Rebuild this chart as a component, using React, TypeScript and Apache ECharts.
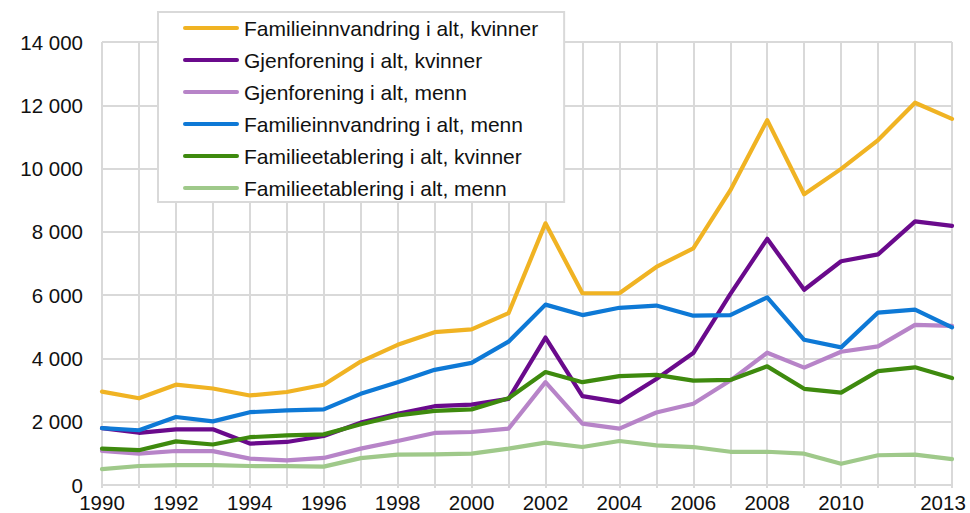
import React, { useEffect, useRef } from "react";
import * as echarts from "echarts";

const years = [
  "1990", "1991", "1992", "1993", "1994", "1995", "1996", "1997", "1998", "1999", "2000", "2001",
  "2002", "2003", "2004", "2005", "2006", "2007", "2008", "2009", "2010", "2011", "2012", "2013",
];

const familieinnvandringKvinner = [2950, 2740, 3170, 3050, 2830, 2940, 3170, 3900, 4430, 4830, 4920, 5430, 8270, 6060, 6060, 6890, 7480, 9310, 11530, 9190, 9990, 10900, 12080, 11570];
const gjenforeningKvinner = [1800, 1650, 1760, 1760, 1310, 1360, 1550, 1970, 2250, 2490, 2540, 2720, 4660, 2810, 2620, 3350, 4170, 6030, 7780, 6170, 7070, 7290, 8330, 8190];
const gjenforeningMenn = [1080, 990, 1075, 1070, 835, 780, 855, 1150, 1390, 1645, 1675, 1780, 3250, 1940, 1780, 2290, 2570, 3300, 4180, 3710, 4210, 4380, 5060, 5030];
const familieinnvandringMenn = [1800, 1730, 2150, 2010, 2300, 2360, 2390, 2880, 3250, 3640, 3860, 4530, 5700, 5370, 5600, 5670, 5350, 5370, 5930, 4590, 4350, 5450, 5540, 4980];
const familieetableringKvinner = [1150, 1100, 1380, 1280, 1510, 1570, 1600, 1920, 2200, 2340, 2390, 2740, 3570, 3250, 3440, 3480, 3300, 3320, 3750, 3040, 2920, 3600, 3720, 3380];
const familieetableringMenn = [500, 600, 625, 625, 600, 595, 580, 850, 960, 970, 990, 1150, 1340, 1200, 1390, 1250, 1200, 1050, 1050, 990, 670, 940, 960, 820];

const seriesNames = [
  "Familieinnvandring i alt, kvinner",
  "Gjenforening i alt, kvinner",
  "Gjenforening i alt, menn",
  "Familieinnvandring i alt, menn",
  "Familieetablering i alt, kvinner",
  "Familieetablering i alt, menn",
];
const seriesData = [
  familieinnvandringKvinner,
  gjenforeningKvinner,
  gjenforeningMenn,
  familieinnvandringMenn,
  familieetableringKvinner,
  familieetableringMenn,
];
const colors = ["#F0B323", "#6A0A8C", "#B784C8", "#0E79D6", "#3E8A0E", "#9FC98A"];

const FONT = "'Liberation Sans', Arial, sans-serif";
const GRID = "#D9D9D9";
const LEGEND_ICON = "path://M2,0 L54,0 A2,2 0 0 1 54,4 L2,4 A2,2 0 0 1 2,0 Z";

export default function App() {
  const ref = useRef<HTMLDivElement>(null);
  useEffect(() => {
    if (!ref.current) return;
    const chart = echarts.init(ref.current, undefined, { renderer: "svg" });
    chart.setOption({
      animation: false,
      backgroundColor: "#fff",
      textStyle: { fontFamily: FONT },
      grid: { left: 102, right: 18, top: 42, bottom: 28, containLabel: false },
      legend: {
        orient: "vertical",
        left: 158,
        top: 12,
        padding: [4, 26, 2, 25],
        itemWidth: 56,
        itemHeight: 4,
        itemGap: 8,
        icon: LEGEND_ICON,
        backgroundColor: "#fff",
        borderColor: GRID,
        borderWidth: 2,
        textStyle: { fontFamily: FONT, fontSize: 21, color: "#111", lineHeight: 24, height: 24 },
        data: seriesNames.map((name, i) => ({ name, icon: LEGEND_ICON, itemStyle: { color: colors[i] } })),
      },
      xAxis: {
        type: "category",
        boundaryGap: false,
        data: years,
        axisLine: { show: true, lineStyle: { color: GRID, width: 2 } },
        axisTick: { show: true, interval: 0, length: 3, lineStyle: { color: GRID, width: 2 } },
        splitLine: { show: true, interval: 0, lineStyle: { color: GRID, width: 2 } },
        axisLabel: {
          fontFamily: FONT,
          fontSize: 20.5,
          color: "#111",
          margin: 7,
          interval: (idx: number, val: string) => (idx % 2 === 0 && val !== "2012") || val === "2013",
          formatter: (val: string) => (val === "2013" ? "{last|" + val + "}" : val),
          rich: {
            last: { fontFamily: FONT, fontSize: 20.5, color: "#111", padding: [0, 18, 0, 0] },
          },
        },
      },
      yAxis: {
        type: "value",
        min: 0,
        max: 14000,
        interval: 2000,
        axisLine: { show: false },
        axisTick: { show: false },
        splitLine: { show: true, lineStyle: { color: GRID, width: 2 } },
        axisLabel: {
          fontFamily: FONT,
          fontSize: 20.5,
          color: "#111",
          margin: 19,
          formatter: (v: number) => String(v).replace(/\B(?=(\d{3})+(?!\d))/g, " "),
        },
      },
      series: seriesNames.map((name, i) => ({
        name,
        type: "line",
        data: seriesData[i],
        symbol: "none",
        showSymbol: false,
        color: colors[i],
        lineStyle: { color: colors[i], width: 4.2, cap: "round", join: "round" },
        z: 2 + i,
      })),
    });
    return () => chart.dispose();
  }, []);
  return (
    <div
      ref={ref}
      style={{ position: "fixed", left: 0, top: 0, width: 970, height: 513, background: "#fff" }}
    />
  );
}
